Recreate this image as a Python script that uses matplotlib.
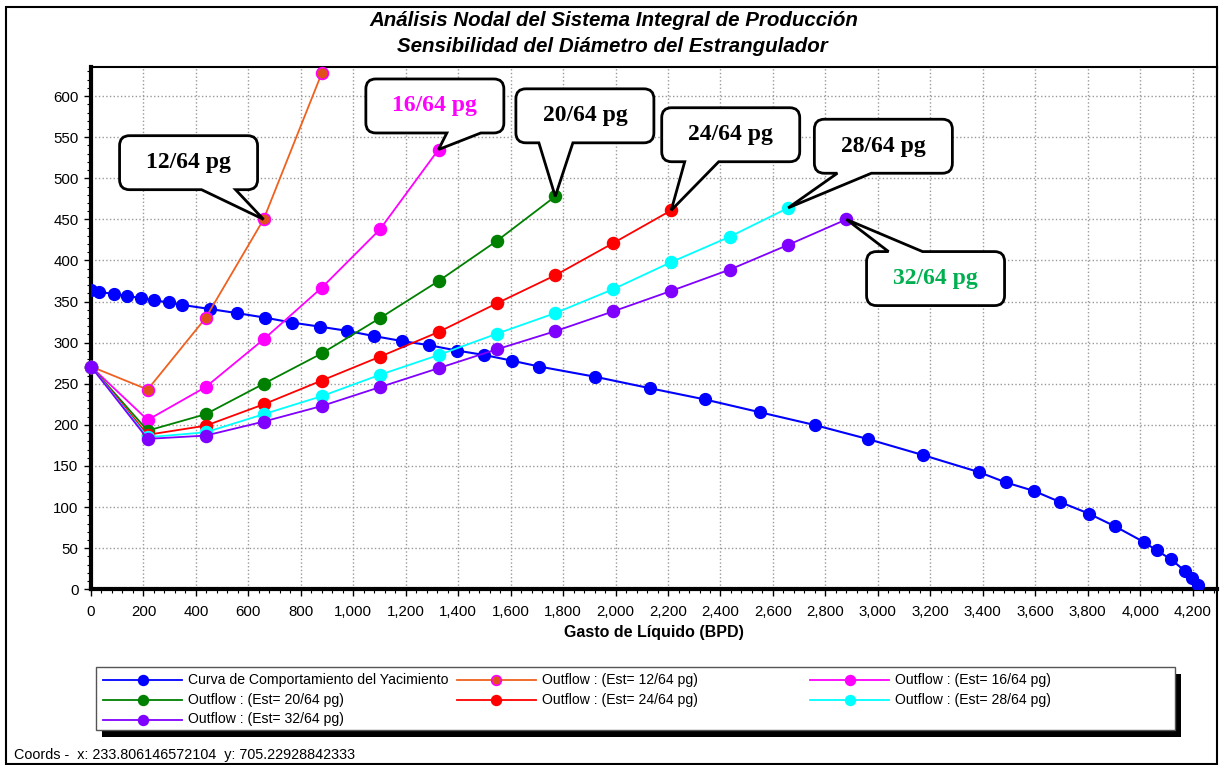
import matplotlib
matplotlib.use("Agg")
import matplotlib.pyplot as plt
from matplotlib.path import Path
from matplotlib.patches import PathPatch, Rectangle
from matplotlib.lines import Line2D
from matplotlib.transforms import IdentityTransform
from matplotlib.ticker import MultipleLocator, FuncFormatter

plt.rcParams['font.family'] = ['Liberation Sans', 'DejaVu Sans']

# Curva de comportamiento del yacimiento (IPR)
ipr_q = [0, 30, 89, 138, 191, 241, 297, 347, 453, 557, 663, 766, 873, 975, 1080,
         1186, 1288, 1394, 1500, 1607, 1709, 1923, 2130, 2340, 2550, 2760, 2963,
         3172, 3386, 3487, 3594, 3696, 3804, 3904, 4013, 4063, 4117, 4170, 4196, 4222]
ipr_p = [364, 361.5, 359.5, 356.5, 354.5, 351.5, 349, 346, 341, 336, 330.5, 324.5,
         319.5, 314.5, 308, 302, 297, 290.5, 285, 278, 271, 258.5, 244.7, 231, 215.4,
         199.8, 182.7, 163.3, 142.5, 130.1, 119.8, 106, 92.1, 76.6, 57.7, 47.3, 36.6,
         22.5, 13.9, 5]

# Outflow por estrangulador
q_out = [0, 216, 437, 658, 880, 1102, 1325, 1548, 1770, 1990, 2212, 2436, 2658, 2880]
p_12 = [271, 243, 330, 450, 628]
p_16 = [271, 206, 246, 304, 367, 438, 535]
p_20 = [271, 193, 213, 250, 287, 330, 375, 424, 478]
p_24 = [271, 188, 199, 225, 254, 283, 313, 348, 382, 421, 461]
p_28 = [271, 185, 191, 213, 235, 261, 285, 311, 336, 365, 398, 429, 464]
p_32 = [271, 183, 187, 204, 223, 246, 269, 292, 314, 338, 363, 389, 419, 450]

chokes = ['12/64', '16/64', '20/64', '24/64', '28/64', '32/64']
outflows = [p_12, p_16, p_20, p_24, p_28, p_32]
line_cols = ['#F0601E', '#FF00FF', '#008000', '#FF0000', '#00FFFF', '#8000FF']
face_cols = ['#E0501C', '#FF00FF', '#008000', '#FF0000', '#00FFFF', '#8000FF']
edge_cols = ['#FF00FF', '#FF00FF', '#008000', '#FF0000', '#00FFFF', '#8000FF']
label_cols = ['black', '#FF00FF', 'black', 'black', 'black', '#00B050']
tip_idx = [3, 6, 8, 10, 12, 13]

W, H = 1220, 765
fig = plt.figure(figsize=(W / 100, H / 100), dpi=100)
ax = fig.add_axes([91 / W, 1 - 589.3 / H, (1217 - 91) / W, (589.3 - 67) / H])

ax.plot(ipr_q, ipr_p, color='#0000FF', lw=1.5, marker='o', ms=8.5, mec='#0000FF',
        mfc='#0000FF', zorder=3)
for p, lc, fc, ec in zip(outflows, line_cols, face_cols, edge_cols):
    ax.plot(q_out[:len(p)], p, color=lc, lw=1.3, marker='o', ms=8.5, mfc=fc, mec=ec,
            mew=1.2, zorder=4, clip_on=False)

ax.set_xlim(0, 4293)
ax.set_ylim(0, 635.4)
ax.xaxis.set_major_locator(MultipleLocator(200))
ax.xaxis.set_minor_locator(MultipleLocator(40))
ax.yaxis.set_major_locator(MultipleLocator(50))
ax.yaxis.set_minor_locator(MultipleLocator(10))
ax.xaxis.set_major_formatter(FuncFormatter(lambda v, pos: f"{v:,.0f}"))
ax.set_xticks([t for t in range(0, 4201, 200)])
ax.tick_params(which='major', length=5, width=1, labelsize=10.8, pad=4)
ax.tick_params(axis='x', which='major', pad=6)
ax.tick_params(which='minor', length=3, width=0.8)
ax.grid(True, which='major', color='#999999', linestyle=':', linewidth=1)
ax.spines['left'].set_linewidth(3)
ax.spines['bottom'].set_linewidth(3)
ax.spines['top'].set_linewidth(1.5)
ax.spines['right'].set_linewidth(1.5)

# marco exterior
fig.patches.append(Rectangle((6 / W, 1 - 764 / H), (1217 - 6) / W, (764 - 7) / H,
                             transform=fig.transFigure, fill=False, ec='black', lw=1.5))

fig.text(614 / W, 1 - 20 / H, "Análisis Nodal del Sistema Integral de Producción",
         ha='center', va='center', fontsize=14.8, fontweight='bold', style='italic')
fig.text(612 / W, 1 - 46 / H, "Sensibilidad del Diámetro del Estrangulador",
         ha='center', va='center', fontsize=14.8, fontweight='bold', style='italic')
fig.text(654 / W, 1 - 632 / H, "Gasto de Líquido (BPD)", ha='center', va='center',
         fontsize=11.5, fontweight='bold')

# globos de texto
box_center = [(372, 519), (1311, 588), (1883, 576), (2439, 553), (3021, 539), (3220, 378)]
box_side = ['bottom', 'bottom', 'bottom', 'bottom', 'bottom', 'top']
box_base = [13, 12, -46, -46, -46, -47]


def callout(center, tip, side, b0, w=138, h=54, r=10, bw=34):
    cx, cy = ax.transData.transform(center)
    tx, ty = ax.transData.transform(tip)
    L, R, T, B = cx - w / 2, cx + w / 2, cy + h / 2, cy - h / 2
    v = [(L + r, T)]
    c = [Path.MOVETO]
    if side == 'top':
        v += [(cx + b0, T), (tx, ty), (cx + b0 + bw, T)]
        c += [Path.LINETO] * 3
    v += [(R - r, T), (R, T), (R, T - r), (R, B + r), (R, B), (R - r, B)]
    c += [Path.LINETO, Path.CURVE3, Path.CURVE3, Path.LINETO, Path.CURVE3, Path.CURVE3]
    if side == 'bottom':
        v += [(cx + b0 + bw, B), (tx, ty), (cx + b0, B)]
        c += [Path.LINETO] * 3
    v += [(L + r, B), (L, B), (L, B + r), (L, T - r), (L, T), (L + r, T), (L + r, T)]
    c += [Path.LINETO, Path.CURVE3, Path.CURVE3, Path.LINETO, Path.CURVE3, Path.CURVE3,
          Path.CLOSEPOLY]
    patch = PathPatch(Path(v, c), transform=IdentityTransform(), fc='white', ec='black',
                      lw=2, zorder=5)
    fig.add_artist(patch)
    return cx, cy


for name, p, cen, side, b0, tc, i in zip(chokes, outflows, box_center, box_side,
                                          box_base, label_cols, tip_idx):
    cx, cy = callout(cen, (q_out[i], p[i]), side, b0)
    fig.text(cx, cy, f"{name} pg", transform=IdentityTransform(), ha='center',
             va='center', fontsize=17, fontweight='bold', family='Liberation Serif',
             color=tc, zorder=6)

# leyenda
fig.patches.append(Rectangle((102 / W, 1 - 737 / H), (1181 - 102) / W, (737 - 674) / H,
                             transform=fig.transFigure, fc='black', ec='black', lw=0))
fig.patches.append(Rectangle((96 / W, 1 - 730 / H), (1175 - 96) / W, (730 - 667) / H,
                             transform=fig.transFigure, fc='white', ec='#555555', lw=1))
leg_names = ["Curva de Comportamiento del Yacimiento"] + \
            [f"Outflow : (Est= {c} pg)" for c in chokes]
leg_line = ['#0000FF'] + line_cols
leg_face = ['#0000FF'] + face_cols
leg_edge = ['#0000FF'] + edge_cols
col_x = [103, 456.5, 810]
row_y = [680, 700, 719.5]
for k, (nm, lc, fc, ec) in enumerate(zip(leg_names, leg_line, leg_face, leg_edge)):
    x0 = col_x[k % 3]
    y0 = 1 - row_y[k // 3] / H
    fig.add_artist(Line2D([x0 / W, (x0 + 79) / W], [y0, y0], transform=fig.transFigure,
                          color=lc, lw=1.3))
    fig.add_artist(Line2D([(x0 + 39.5) / W], [y0], transform=fig.transFigure, marker='o',
                          ms=7, mfc=fc, mec=ec, mew=1.2, color=lc))
    fig.text((x0 + 85) / W, y0, nm, ha='left', va='center', fontsize=10.1)

fig.text(14 / W, 1 - 755 / H, "Coords -  x: 233.806146572104  y: 705.22928842333",
         ha='left', va='center', fontsize=10.4)

fig.savefig("out.png", dpi=100)
